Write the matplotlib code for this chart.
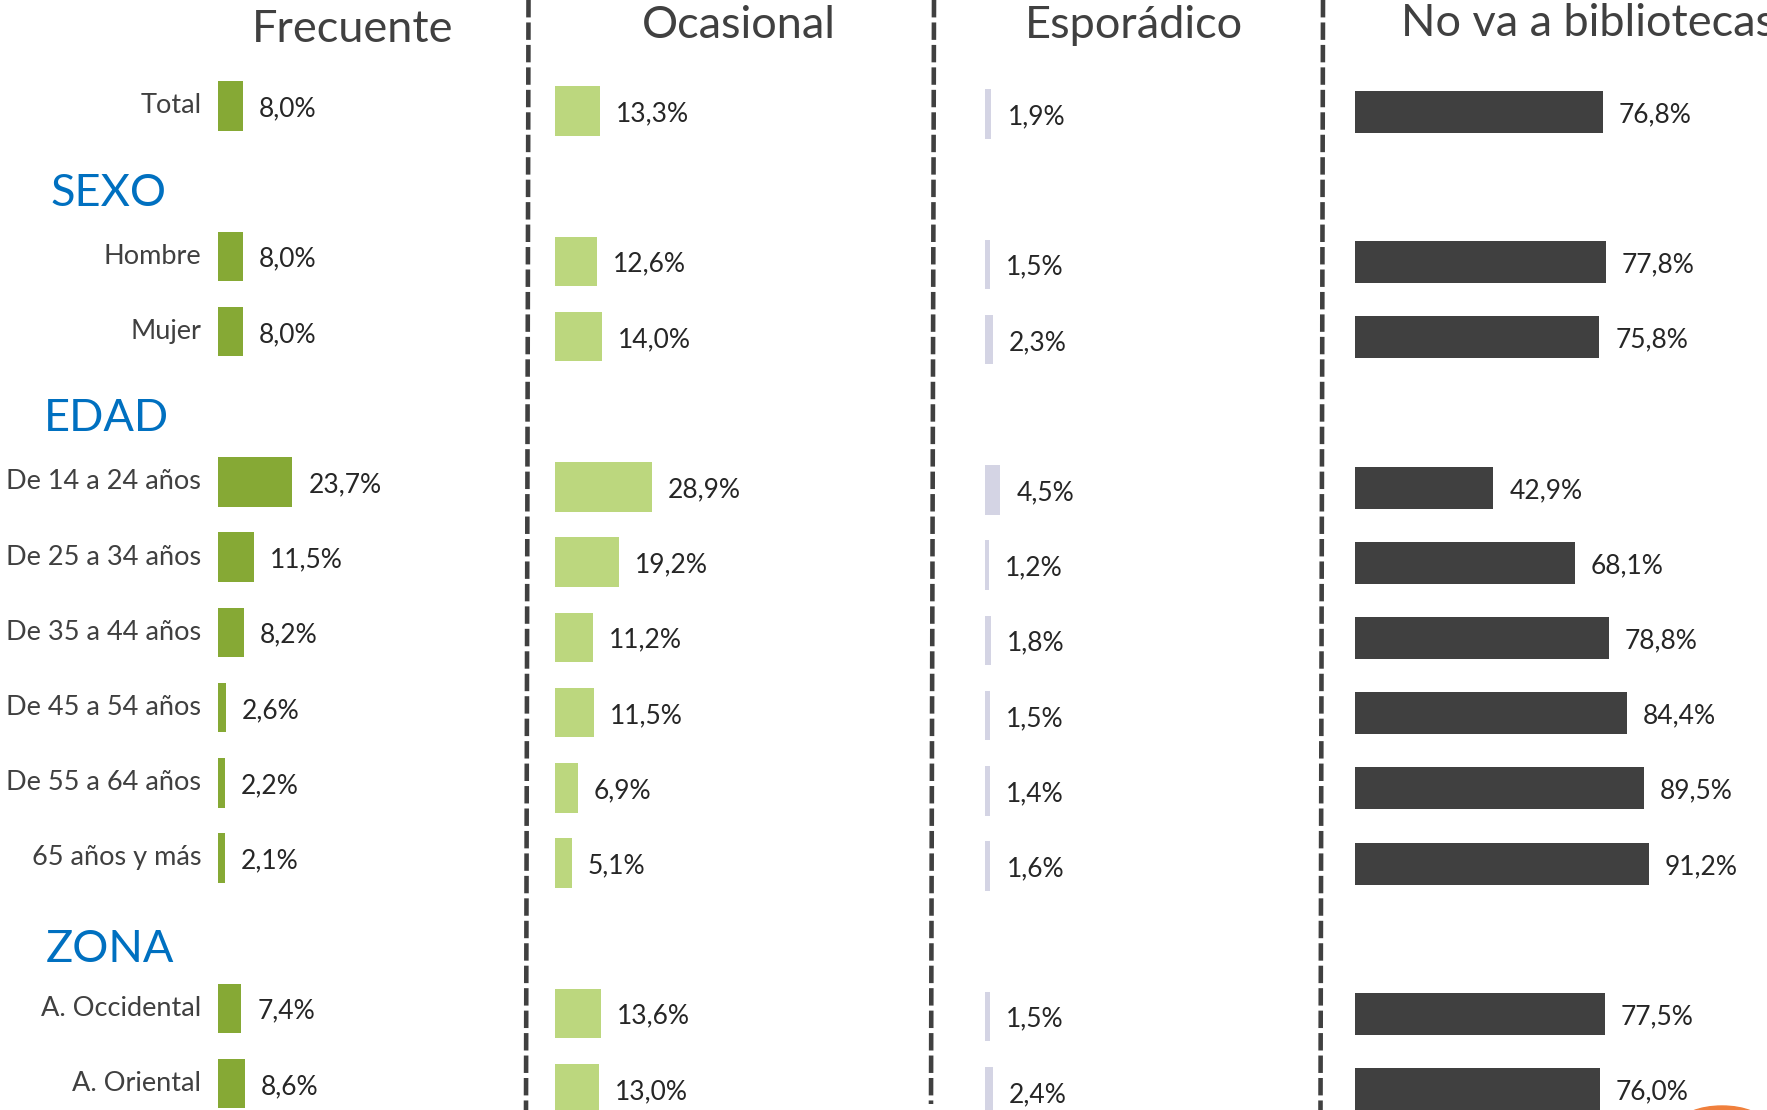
import matplotlib
matplotlib.use("Agg")
import matplotlib.pyplot as plt
import matplotlib.transforms as mtransforms
from matplotlib.patches import Ellipse

plt.rcParams["font.family"] = ["Lato", "DejaVu Sans"]

# ---- data -------------------------------------------------------------
categories = ["Total", "Hombre", "Mujer",
              "De 14 a 24 años", "De 25 a 34 años", "De 35 a 44 años",
              "De 45 a 54 años", "De 55 a 64 años", "65 años y más",
              "A. Occidental", "A. Oriental"]
groups = ["SEXO", "EDAD", "ZONA"]
panel_titles = ["Frecuente", "Ocasional", "Esporádico", "No va a bibliotecas"]

frecuente = [8.0, 8.0, 8.0, 23.7, 11.5, 8.2, 2.6, 2.2, 2.1, 7.4, 8.6]
ocasional = [13.3, 12.6, 14.0, 28.9, 19.2, 11.2, 11.5, 6.9, 5.1, 13.6, 13.0]
esporadico = [1.9, 1.5, 2.3, 4.5, 1.2, 1.8, 1.5, 1.4, 1.6, 1.5, 2.4]
no_va = [76.8, 77.8, 75.8, 42.9, 68.1, 78.8, 84.4, 89.5, 91.2, 77.5, 76.0]

# ---- layout (pixels) --------------------------------------------------
W, H = 1767, 1110
row_slots = [0, 2, 3, 5, 6, 7, 8, 9, 10, 12, 13]   # vertical slot of each category
group_slots = [1.16, 4.15, 11.22]
SP = 75.2                                          # pixels between slots

DARK = "#404040"
VAL = "#262626"
BLUE = "#0070C0"

# x start of bars, pixels per percent, y of first slot, bar height (slots), colour
panels = [
    dict(values=frecuente, x0=218, ppp=3.14, row0=106.0, h=0.66, color="#86A935"),
    dict(values=ocasional, x0=555, ppp=3.35, row0=111.0, h=0.66, color="#BCD77E"),
    dict(values=esporadico, x0=985, ppp=3.40, row0=114.0, h=0.66, color="#D4D4E4"),
    dict(values=no_va, x0=1355, ppp=3.225, row0=111.6, h=0.56, color="#404040"),
]
title_pos = [(353, 30, "center"), (739, 25, "center"),
             (1134, 25, "center"), (1401, 23, "left")]

fig = plt.figure(figsize=(W / 100, H / 100), dpi=100)
fig.patch.set_facecolor("white")


def fmt(v):
    return f"{v:.1f}".replace(".", ",") + "%"


axes = []
for p in panels:
    width_px = 360
    ax = fig.add_axes([p["x0"] / W, 0, width_px / W, 1])
    ax.set_xlim(0, width_px / p["ppp"])
    ax.set_ylim((H - p["row0"]) / SP, -p["row0"] / SP)
    ax.axis("off")
    ax.barh(row_slots, p["values"], height=p["h"], color=p["color"],
            edgecolor="none")
    for y, v in zip(row_slots, p["values"]):
        ax.annotate(fmt(v), xy=(v, y), xytext=(11.5, -2),
                    textcoords="offset points", ha="left", va="center",
                    fontsize=19, color=VAL)
    axes.append(ax)

# category labels and group headings on the first panel
ax0 = axes[0]
for y, name in zip(row_slots, categories):
    ax0.annotate(name, xy=(0, y), xytext=(-12, 0),
                 textcoords="offset points", ha="right", va="center",
                 fontsize=19.5, color=DARK)
blend = mtransforms.blended_transform_factory(fig.transFigure, ax0.transData)
for y, g, xpx in zip(group_slots, groups, [50, 44, 46]):
    ax0.text(xpx / W, y, g, transform=blend, ha="left", va="center",
             fontsize=32.5, color=BLUE)

# panel titles
for (xp, yp, ha), t in zip(title_pos, panel_titles):
    fig.text(xp / W, 1 - yp / H, t, ha=ha, va="center", fontsize=32.5,
             color=DARK)

# dashed separators
for xt, xb, yb in [(528.5, 526, 1110), (934, 931, 1104), (1323, 1320.5, 1110)]:
    fig.add_artist(plt.Line2D([xt / W, xb / W], [1, 1 - yb / H],
                              transform=fig.transFigure, color=DARK,
                              linewidth=3.3, linestyle=(0, (3.8, 1.1))))

# corner mark
fig.add_artist(Ellipse((1722 / W, 1 - 1124 / H), 84 / W, 36 / H,
                       transform=fig.transFigure, color="#F07F3C",
                       clip_on=True))

fig.savefig("out.png", dpi=100, facecolor="white")
